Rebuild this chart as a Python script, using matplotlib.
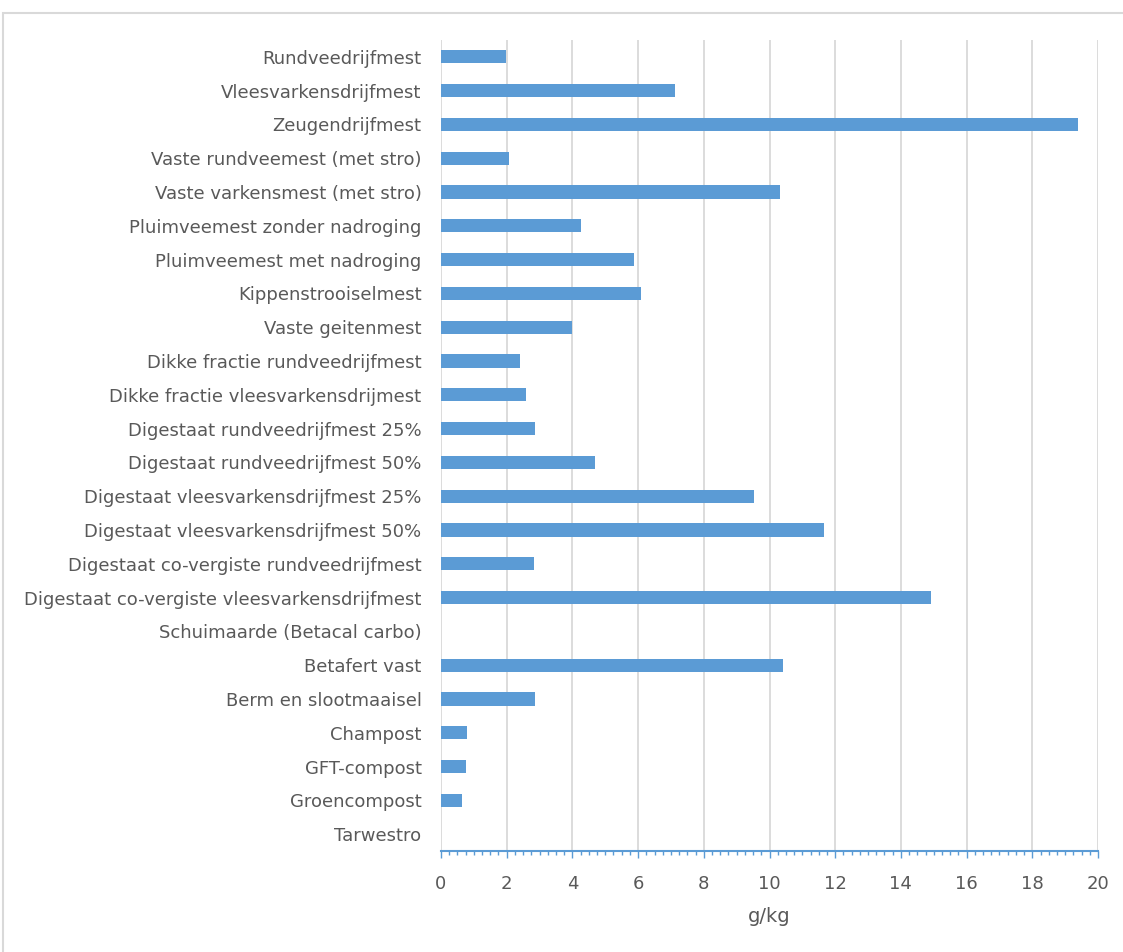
import matplotlib
matplotlib.use('Agg')
from matplotlib import pyplot as plt
from matplotlib.patches import Rectangle
from matplotlib.ticker import MultipleLocator
import numpy as np

categories = ['Rundveedrijfmest', 'Vleesvarkensdrijfmest', 'Zeugendrijfmest',
              'Vaste rundveemest (met stro)', 'Vaste varkensmest (met stro)',
              'Pluimveemest zonder nadroging', 'Pluimveemest met nadroging',
              'Kippenstrooiselmest', 'Vaste geitenmest',
              'Dikke fractie rundveedrijfmest', 'Dikke fractie vleesvarkensdrijmest',
              'Digestaat rundveedrijfmest 25%', 'Digestaat rundveedrijfmest 50%',
              'Digestaat vleesvarkensdrijfmest 25%', 'Digestaat vleesvarkensdrijfmest 50%',
              'Digestaat co-vergiste rundveedrijfmest',
              'Digestaat co-vergiste vleesvarkensdrijfmest',
              'Schuimaarde (Betacal carbo)', 'Betafert vast', 'Berm en slootmaaisel',
              'Champost', 'GFT-compost', 'Groencompost', 'Tarwestro']
values = [1.98, 7.12, 19.39, 2.07, 10.32, 4.26, 5.87, 6.09, 3.99, 2.40, 2.59,
          2.86, 4.69, 9.53, 11.66, 2.83, 14.92, 0.0, 10.41, 2.86, 0.79, 0.76,
          0.64, 0.0]
xlabel = 'g/kg'

plt.rcParams['font.family'] = ['DejaVu Sans']
text_col = '#595959'
bar_col = '#5B9BD5'

fig = plt.figure(figsize=(11.23, 9.52), dpi=100)
# chart frame
fig.patches.append(Rectangle((0.003, -0.01), 1.1, 1 - 13/952 + 0.01,
                             transform=fig.transFigure, fill=False,
                             edgecolor='#D9D9D9', linewidth=1.5))
ax = fig.add_axes([441/1123, 1 - 851/952, 657/1123, 811/952])

y = np.arange(len(categories))
ax.barh(y, values, height=0.39, color=bar_col, zorder=3)
ax.set_ylim(len(categories) - 0.5, -0.5)
ax.set_xlim(0, 20)
ax.set_yticks(y)
ax.set_yticklabels(categories, fontsize=13, color=text_col)
ax.tick_params(axis='y', length=0, pad=14)

ax.xaxis.set_major_locator(MultipleLocator(2))
ax.xaxis.set_minor_locator(MultipleLocator(0.25))
ax.tick_params(axis='x', which='major', length=5, width=1, color=bar_col,
               labelsize=13, labelcolor=text_col, pad=12)
ax.tick_params(axis='x', which='minor', length=3, width=1, color=bar_col)
ax.grid(axis='x', which='major', color='#D9D9D9', linewidth=1.3, zorder=0)

for s in ['top', 'right', 'left']:
    ax.spines[s].set_visible(False)
ax.spines['bottom'].set_color(bar_col)
ax.spines['bottom'].set_linewidth(1.5)

ax.set_xlabel(xlabel, fontsize=14, color=text_col, labelpad=10)

fig.savefig('out.png', dpi=100)
